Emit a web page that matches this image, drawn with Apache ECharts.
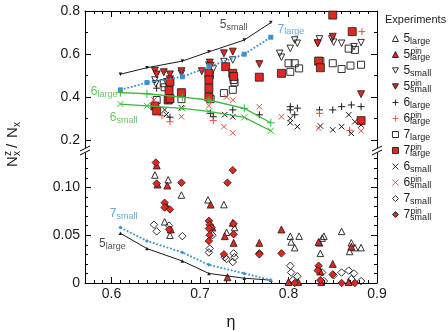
<!DOCTYPE html>
<html><head><meta charset="utf-8">
<script src="https://cdn.jsdelivr.net/npm/echarts@6/dist/echarts.min.js"></script>
<style>html,body{margin:0;padding:0;background:#fff}#c{width:448px;height:332px}</style>
</head><body><div id="c"></div>
<script>
// ---------- tick labels ----------
const xMajorTicks = [0.6, 0.7, 0.8, 0.9];
const yUpperMajorTicks = [0.2, 0.4, 0.6, 0.8];
const yLowerMajorTicks = [0, 0.05, 0.1];
function steps(a, b, s) { const r = []; for (let v = a; v <= b + 1e-9; v += s) r.push(+v.toFixed(4)); return r; }
const xMinorTicks = steps(0.57, 0.9, 0.01);
const yUpperMinorTicks = steps(0.2, 0.8, 0.1);
const yLowerMinorTicks = steps(0, 0.13, 0.01);

// ---------- model curves ----------
const modelEta = [0.61, 0.64, 0.68, 0.71, 0.75, 0.78];
const model5small = [0.506, 0.536, 0.567, 0.610, 0.665, 0.746];
const model7large = [0.433, 0.467, 0.494, 0.540, 0.599, 0.678];
const model6large = [0.420, 0.415, 0.399, 0.386, 0.347, 0.280];
const model6small = [0.367, 0.359, 0.347, 0.333, 0.305, 0.243];
const model5large = [0.052, 0.036, 0.023, 0.010, 0.005, 0.003];
const model7small = [0.058, 0.044, 0.032, 0.019, 0.010, 0.003];

// ---------- experiments, upper panel ----------
const up5small = [[0.649,0.479],[0.650,0.462],[0.662,0.470],[0.666,0.446],[0.679,0.510],[0.710,0.548],[0.715,0.530],[0.727,0.565],[0.737,0.572],[0.790,0.603],[0.792,0.585],[0.802,0.626],[0.807,0.665],[0.810,0.650],[0.833,0.650],[0.835,0.670],[0.849,0.670],[0.851,0.655],[0.860,0.650],[0.874,0.634],[0.882,0.653]];
const up5pinSmall = [[0.649,0.522],[0.651,0.505],[0.659,0.515],[0.666,0.505],[0.666,0.482],[0.679,0.520],[0.702,0.520],[0.711,0.560],[0.712,0.545],[0.727,0.603],[0.737,0.611],[0.767,0.553],[0.833,0.650],[0.850,0.680],[0.882,0.413]];
const up7large = [[0.651,0.386],[0.659,0.464],[0.660,0.445],[0.679,0.390],[0.711,0.500],[0.712,0.390],[0.727,0.418],[0.737,0.433],[0.738,0.479],[0.739,0.468],[0.800,0.557],[0.807,0.557],[0.802,0.517],[0.812,0.533],[0.836,0.567],[0.850,0.557],[0.860,0.530],[0.868,0.625],[0.875,0.619],[0.870,0.546],[0.882,0.550]];
const up7pinLarge = [[0.649,0.358],[0.651,0.335],[0.664,0.386],[0.666,0.392],[0.666,0.470],[0.665,0.430],[0.679,0.420],[0.710,0.510],[0.710,0.480],[0.710,0.440],[0.710,0.400],[0.729,0.541],[0.737,0.510],[0.738,0.495],[0.767,0.492],[0.792,0.510],[0.834,0.567],[0.836,0.536],[0.850,0.781],[0.872,0.704],[0.882,0.290]];
const up6large = [[0.651,0.441],[0.666,0.306],[0.712,0.324],[0.715,0.308],[0.737,0.340],[0.767,0.317],[0.802,0.355],[0.810,0.348],[0.802,0.340],[0.807,0.317],[0.835,0.340],[0.850,0.340],[0.860,0.355],[0.871,0.363],[0.882,0.355]];
const up6pinLarge = [[0.657,0.313],[0.666,0.285],[0.715,0.290],[0.835,0.324],[0.869,0.245],[0.883,0.704]];
const up6small = [[0.660,0.340],[0.662,0.318],[0.679,0.350],[0.728,0.318],[0.737,0.308],[0.802,0.300],[0.802,0.280],[0.810,0.262],[0.836,0.265],[0.850,0.247],[0.860,0.262],[0.868,0.317],[0.871,0.231],[0.875,0.285],[0.882,0.270]];
const up6pinSmall = [[0.648,0.386],[0.679,0.308],[0.710,0.386],[0.710,0.360],[0.730,0.400],[0.737,0.386],[0.727,0.262],[0.737,0.233],[0.767,0.355],[0.792,0.308],[0.834,0.255],[0.882,0.243]];

// ---------- experiments, lower panel ----------
const lo5large = [[0.649,0.113],[0.664,0.108],[0.660,0.064],[0.666,0.050],[0.679,0.092],[0.709,0.087],[0.727,0.082],[0.739,0.058],[0.730,0.053],[0.802,0.049],[0.803,0.043],[0.807,0.037],[0.812,0.049],[0.835,0.042],[0.836,0.031],[0.838,0.047],[0.840,0.049],[0.860,0.054],[0.871,0.042],[0.869,0.033],[0.875,0.037],[0.882,0.037]];
const lo5pinLarge = [[0.651,0.123],[0.652,0.103],[0.663,0.102],[0.662,0.081],[0.667,0.056],[0.712,0.082],[0.714,0.058],[0.728,0.049],[0.737,0.063],[0.738,0.042],[0.731,0.006],[0.767,0.042],[0.792,0.056],[0.800,0.001],[0.811,0.001],[0.834,0.043],[0.836,0.012],[0.837,0.001],[0.850,0.020],[0.871,0.038],[0.868,0.001]];
const lo7small = [[0.648,0.061],[0.651,0.054],[0.665,0.060],[0.680,0.049],[0.714,0.050],[0.711,0.036],[0.710,0.032],[0.728,0.027],[0.730,0.025],[0.738,0.031],[0.737,0.022],[0.739,0.027],[0.802,0.018],[0.803,0.011],[0.805,0.003],[0.810,0.007],[0.838,0.011],[0.840,0.002],[0.851,0.008],[0.860,0.011],[0.868,0.013],[0.874,0.010],[0.871,0.004],[0.882,0.002]];
const lo7pinSmall = [[0.650,0.126],[0.651,0.104],[0.660,0.084],[0.660,0.079],[0.666,0.077],[0.665,0.056],[0.679,0.105],[0.710,0.065],[0.711,0.061],[0.713,0.058],[0.710,0.057],[0.711,0.050],[0.710,0.044],[0.731,0.105],[0.727,0.030],[0.737,0.118],[0.738,0.062],[0.738,0.051],[0.767,0.031],[0.767,0.030],[0.792,0.031],[0.807,0.000],[0.834,0.018],[0.833,0.013],[0.836,0.003],[0.850,0.009],[0.860,0.000],[0.875,0.000]];

// ---------- legend labels ----------
const legendItems = [
  ['5large','5','','large'], ['5pin_large','5','pin','large'],
  ['5small','5','','small'], ['5pin_small','5','pin','small'],
  ['6large','6','','large'], ['6pin_large','6','pin','large'],
  ['7large','7','','large'], ['7pin_large','7','pin','large'],
  ['6small','6','','small'], ['6pin_small','6','pin','small'],
  ['7small','7','','small'], ['7pin_small','7','pin','small']
];
// annotation labels: [eta, value, main, sub, colorKey]
const annotUpper = [[0.7224,0.735,'5','small','k'],[0.7876,0.715,'7','large','b'],[0.5765,0.425,'6','large','g'],[0.598,0.304,'6','small','g']];
const annotLower = [[0.598,0.0723,'7','small','b'],[0.5859,0.0407,'5','large','k']];

// ---------- styling ----------
const FONT = '"Liberation Sans", Arial, Helvetica, sans-serif';
const RED = '#e3261f', RED2 = '#f04a40', BLUE = '#3c92d4', GREEN = '#3db83a', INK = '#1a1a1a';
const COL = {k: INK, b: BLUE, g: GREEN};
const SYM = {
  up: 'triangle',
  down: 'path://M0,0L10,0L5,9Z',
  plus: 'path://M5,0L5,10M0,5L10,5',
  cross: 'path://M0,0L10,10M10,0L0,10',
  sq: 'rect',
  dia: 'diamond'
};

function xAx(grid, pos, ticks, len, line, labels) {
  return {
    type: 'value', gridIndex: grid, position: pos, min: 0.57, max: 0.9,
    splitLine: {show: false},
    axisLine: {show: line, onZero: false, lineStyle: {color: '#000', width: 1}},
    axisTick: {show: true, inside: true, length: len, customValues: ticks, lineStyle: {color: '#000', width: 1}},
    axisLabel: labels ? {show: true, customValues: xMajorTicks, margin: 4, fontSize: 14, color: INK, fontFamily: FONT, formatter: v => v.toFixed(1)} : {show: false},
    name: labels ? 'η' : '', nameLocation: 'middle', nameGap: 32,
    nameTextStyle: {fontSize: 16, color: INK, fontFamily: FONT}
  };
}
function yAx(grid, pos, min, max, ticks, len, line, labels, fmt) {
  return {
    type: 'value', gridIndex: grid, position: pos, min: min, max: max,
    splitLine: {show: false},
    axisLine: {show: line, onZero: false, lineStyle: {color: '#000', width: 1}},
    axisTick: {show: true, inside: true, length: len, customValues: ticks, lineStyle: {color: '#000', width: 1}},
    axisLabel: labels ? {show: true, customValues: labels, margin: 5, fontSize: 14, color: INK, fontFamily: FONT, formatter: fmt} : {show: false}
  };
}
const fmtUp = v => v.toFixed(1);
const fmtLo = v => v === 0 ? '0' : v.toFixed(2);

function sc(name, data, xi, yi, symbol, fill, stroke, size, bw) {
  return {
    type: 'scatter', name: name, data: data, xAxisIndex: xi, yAxisIndex: yi,
    symbol: symbol, symbolSize: size, clip: false, z: 3,
    itemStyle: {color: fill, borderColor: stroke, borderWidth: bw, opacity: 1}
  };
}
function model(name, vals, xi, yi, color, type, width, symbol, size, fill) {
  return {
    type: 'line', name: name, data: modelEta.map((e, i) => [e, vals[i]]),
    xAxisIndex: xi, yAxisIndex: yi, symbol: symbol, symbolSize: size, showSymbol: true, z: 4,
    lineStyle: {color: color, width: width, type: type},
    itemStyle: {color: fill || color, borderColor: color, borderWidth: fill ? 1 : 0},
    silent: true
  };
}
function annot(a, xi, yi) {
  return {
    type: 'scatter', data: [[a[0], a[1]]], xAxisIndex: xi, yAxisIndex: yi,
    symbolSize: 0, silent: true, clip: false, z: 5, itemStyle: {color: 'transparent'},
    label: {
      show: true, position: 'right', distance: 0,
      formatter: '{n|' + a[2] + '}{s|' + a[3] + '}',
      rich: {
        n: {fontSize: 12, lineHeight: 6, color: COL[a[4]], fontFamily: FONT},
        s: {fontSize: 9, lineHeight: 6, height: 1, verticalAlign: 'bottom', color: COL[a[4]], fontFamily: FONT}
      }
    }
  };
}

const T = 'rgba(255,255,255,0)';
const series = [
  // upper panel experimental points (x axis 0, y axis 0)
  sc('5small', up5small, 0, 0, SYM.down, T, INK, 6.5, 0.9),
  sc('5pin_small', up5pinSmall, 0, 0, SYM.down, RED, INK, 7, 0.8),
  sc('7large', up7large, 0, 0, SYM.sq, T, INK, 7, 0.9),
  sc('7pin_large', up7pinLarge, 0, 0, SYM.sq, RED, INK, 8, 0.8),
  sc('6large', up6large, 0, 0, SYM.plus, T, INK, 7, 1),
  sc('6pin_large', up6pinLarge, 0, 0, SYM.plus, T, RED2, 7, 1),
  sc('6small', up6small, 0, 0, SYM.cross, T, INK, 5.5, 1),
  sc('6pin_small', up6pinSmall, 0, 0, SYM.cross, T, RED2, 5.5, 1),
  // lower panel experimental points (x axis 4, y axis 8)
  sc('5large', lo5large, 4, 8, SYM.up, T, INK, 6.5, 0.9),
  sc('5pin_large', lo5pinLarge, 4, 8, SYM.up, RED, INK, 7, 0.8),
  sc('7small', lo7small, 4, 8, SYM.dia, T, INK, 7.5, 0.9),
  sc('7pin_small', lo7pinSmall, 4, 8, SYM.dia, RED, INK, 7.5, 0.8),
  // model curves
  model('m5small', model5small, 0, 0, INK, 'solid', 1, SYM.down, 3.5),
  model('m7large', model7large, 0, 0, BLUE, 'dotted', 1.8, 'rect', 5),
  model('m6large', model6large, 0, 0, GREEN, 'solid', 1.3, SYM.plus, 8, T),
  model('m6small', model6small, 0, 0, GREEN, 'solid', 1.3, SYM.cross, 6, T),
  model('m5large', model5large, 4, 8, INK, 'solid', 1, 'triangle', 3.5),
  model('m7small', model7small, 4, 8, BLUE, 'dotted', 1.8, 'diamond', 4)
];
annotUpper.forEach(a => series.push(annot(a, 0, 0)));
annotLower.forEach(a => series.push(annot(a, 4, 8)));

const legendMap = {};
legendItems.forEach(it => legendMap[it[0]] = it);

const option = {
  animation: false,
  backgroundColor: '#fff',
  textStyle: {fontFamily: FONT},
  title: {text: 'Experiments', left: 385, top: 14, padding: 0, textStyle: {fontSize: 11, fontWeight: 'normal', color: INK, fontFamily: FONT}},
  legend: {
    orient: 'vertical', left: 392, top: 31, itemWidth: 6, itemHeight: 6, itemGap: 1,
    padding: 0, selectedMode: false,
    data: legendItems.map(it => it[0]),
    itemStyle: {borderWidth: 0.9},
    formatter: name => {
      const it = legendMap[name];
      return '{p|' + (it[2] || ' ') + '}\n{n|' + it[1] + '}{s|' + it[3] + '}';
    },
    textStyle: {
      fontFamily: FONT, color: INK,
      rich: {
        p: {fontSize: 8.5, lineHeight: 1, padding: [0, 0, 0, 7], color: INK, fontFamily: FONT},
        n: {fontSize: 12, lineHeight: 6, color: INK, fontFamily: FONT},
        s: {fontSize: 9, lineHeight: 6, height: 1, verticalAlign: 'bottom', color: INK, fontFamily: FONT}
      }
    }
  },
  grid: [
    {left: 85, right: 71, top: 11, height: 136.5},
    {left: 85, right: 71, top: 153, height: 136}
  ],
  xAxis: [
    xAx(0, 'top', xMinorTicks, 3, true, false),
    xAx(0, 'top', xMajorTicks, 6, false, false),
    xAx(0, 'bottom', [], 0, false, false),
    xAx(0, 'bottom', [], 0, false, false),
    xAx(1, 'bottom', xMinorTicks, 3, true, true),
    xAx(1, 'bottom', xMajorTicks, 6, false, false)
  ],
  yAxis: [
    yAx(0, 'left', 0.165, 0.8, yUpperMinorTicks, 3, true, yUpperMajorTicks, fmtUp),
    yAx(0, 'left', 0.165, 0.8, yUpperMajorTicks, 6, false, null),
    yAx(0, 'right', 0.165, 0.8, yUpperMinorTicks, 3, true, null),
    yAx(0, 'right', 0.165, 0.8, yUpperMajorTicks, 6, false, null),
    yAx(1, 'left', 0, 0.136, yLowerMinorTicks, 3, true, null),
    yAx(1, 'left', 0, 0.136, yLowerMajorTicks, 6, false, null),
    yAx(1, 'right', 0, 0.136, yLowerMinorTicks, 3, true, null),
    yAx(1, 'right', 0, 0.136, yLowerMajorTicks, 6, false, null),
    yAx(1, 'left', 0, 0.136, [], 0, false, yLowerMajorTicks, fmtLo)
  ],
  graphic: [
    // axis break marks
    {type: 'line', shape: {x1: 80, y1: 151, x2: 90, y2: 146}, style: {stroke: '#000', lineWidth: 1}},
    {type: 'line', shape: {x1: 80, y1: 155, x2: 90, y2: 150}, style: {stroke: '#000', lineWidth: 1}},
    {type: 'line', shape: {x1: 372, y1: 151, x2: 382, y2: 146}, style: {stroke: '#000', lineWidth: 1}},
    {type: 'line', shape: {x1: 372, y1: 155, x2: 382, y2: 150}, style: {stroke: '#000', lineWidth: 1}},
    // y axis title N_x^z / N_x
    {
      type: 'group', x: 13, y: 142, rotation: Math.PI / 2,
      children: [
        {type: 'text', x: -25, y: 0, style: {text: 'N', fontSize: 15, fontFamily: FONT, fill: INK, verticalAlign: 'middle'}},
        {type: 'text', x: -14, y: -5, style: {text: 'z', fontSize: 10, fontFamily: FONT, fill: INK, verticalAlign: 'middle'}},
        {type: 'text', x: -14, y: 4, style: {text: 'x', fontSize: 10, fontFamily: FONT, fill: INK, verticalAlign: 'middle'}},
        {type: 'text', x: -6, y: 0, style: {text: '/', fontSize: 15, fontFamily: FONT, fill: INK, verticalAlign: 'middle'}},
        {type: 'text', x: 4, y: 0, style: {text: 'N', fontSize: 15, fontFamily: FONT, fill: INK, verticalAlign: 'middle'}},
        {type: 'text', x: 15, y: 4, style: {text: 'x', fontSize: 10, fontFamily: FONT, fill: INK, verticalAlign: 'middle'}}
      ]
    }
  ],
  series: series
};

const chart = echarts.init(document.getElementById('c'), null, {renderer: 'canvas'});
chart.setOption(option);
</script>
</body></html>
